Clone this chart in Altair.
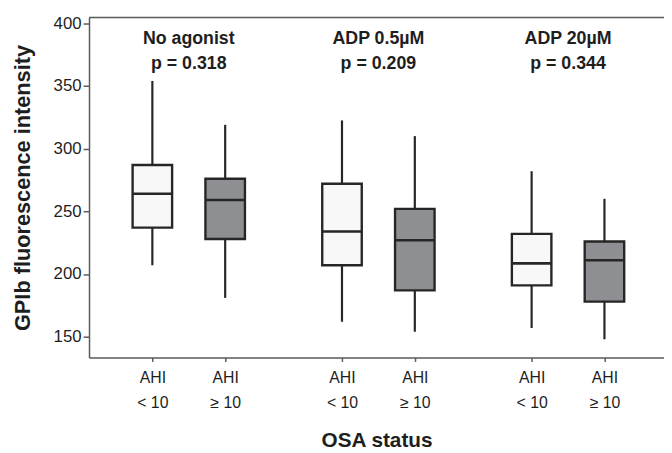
import altair as alt
import pandas as pd

# ---- data ----
groups = ["No agonist", "ADP 0.5µM", "ADP 20µM"]
p_values = ["p = 0.318", "p = 0.209", "p = 0.344"]
status = ["AHI < 10", "AHI ≥ 10"]
box_group = [0, 0, 1, 1, 2, 2]
box_status = [0, 1, 0, 1, 0, 1]
whisker_low = [207, 181, 162, 154, 157, 148]
q1 = [237, 228, 207, 187, 191, 178]
median = [264, 259, 234, 227, 208.5, 211]
q3 = [287, 276, 272, 252, 232, 226]
whisker_high = [354, 319, 322.5, 310, 282, 260]
y_ticks = [150, 200, 250, 300, 350, 400]

# ---- tables ----
OFFSET = 0.384  # distance between the two boxes of a group, in group units
boxes = pd.DataFrame({
    "group": [groups[g] for g in box_group],
    "status": [status[s] for s in box_status],
    "pos": [g + (s - 0.5) * OFFSET for g, s in zip(box_group, box_status)],
    "low": whisker_low, "q1": q1, "median": median, "q3": q3, "high": whisker_high,
})
notes = pd.DataFrame({"pos": list(range(len(groups))), "group": groups, "p": p_values})

W, H = 582, 344
LINE = "#262626"
AX = "#5a5a5a"
FONT = "Liberation Sans"

xscale = alt.Scale(domain=[-0.5, 2.48], nice=False, zero=False)
yscale = alt.Scale(domain=[133.5, 404.5], nice=False, zero=False)

x_enc = alt.X(
    "pos:Q", scale=xscale,
    axis=alt.Axis(
        values=list(boxes["pos"]),
        labelExpr="datum.value - floor(datum.value) > 0.5 ? ['AHI', '< 10'] : ['AHI', '≥ 10']",
        title="OSA status", grid=False,
        tickSize=4, tickColor=AX, tickWidth=1.5,
        domainColor=AX, domainWidth=1.5,
        labelFont=FONT, labelFontSize=16, labelColor="#1e1e1e",
        labelLineHeight=26, labelBaseline="alphabetic", labelPadding=21,
        labelFlush=False, labelOverlap=False,
        titleFont=FONT, titleFontSize=21, titleFontWeight="bold", titleColor="#1e1e1e",
        titleBaseline="alphabetic", titleY=90,
    ),
)
y_axis = alt.Axis(
    values=y_ticks, title="GPIb fluorescence intensity", grid=False,
    tickSize=6, tickColor=AX, tickWidth=1.5,
    domainColor=AX, domainWidth=1.5,
    labelFont=FONT, labelFontSize=17, labelColor="#1e1e1e", labelPadding=2,
    titleFont=FONT, titleFontSize=22, titleFontWeight="bold", titleColor="#1e1e1e",
    titleX=-55,
)

base = alt.Chart(boxes)

whiskers = base.mark_rule(color=LINE, strokeWidth=2.2).encode(
    x=x_enc,
    y=alt.Y("low:Q", scale=yscale, axis=y_axis),
    y2="high:Q",
)
box = base.mark_bar(size=40, stroke=LINE, strokeWidth=2.4, opacity=1).encode(
    x=alt.X("pos:Q", scale=xscale),
    y=alt.Y("q1:Q", scale=yscale),
    y2="q3:Q",
    color=alt.Color("status:N", scale=alt.Scale(domain=status, range=["#f8f8f8", "#8e8f92"]), legend=None),
)
med = base.mark_tick(orient="horizontal", size=40, thickness=2.6, color=LINE, opacity=1).encode(
    x=alt.X("pos:Q", scale=xscale),
    y=alt.Y("median:Q", scale=yscale),
)
labels = alt.Chart(notes).transform_calculate(
    lines="[datum.group, datum.p]"
).mark_text(
    font=FONT, fontSize=18, fontWeight="bold", color="#1e1e1e",
    baseline="alphabetic", align="center", lineHeight=25,
).encode(
    x=alt.X("pos:Q", scale=xscale),
    y=alt.value(27),
    text="lines:N",
)
top_line = alt.Chart(pd.DataFrame({"k": [0]})).mark_rule(color=AX, strokeWidth=1.5).encode(
    x=alt.value(0), x2=alt.value(W), y=alt.value(0),
)

chart = alt.layer(whiskers, box, med, labels, top_line).properties(
    width=W, height=H,
    autosize=alt.AutoSizeParams(type="none"),
    padding={"left": 82, "top": 7, "right": 0, "bottom": 94},
).configure_view(stroke=None)

chart.save("out.html", embed_options={"renderer": "svg", "actions": False})
